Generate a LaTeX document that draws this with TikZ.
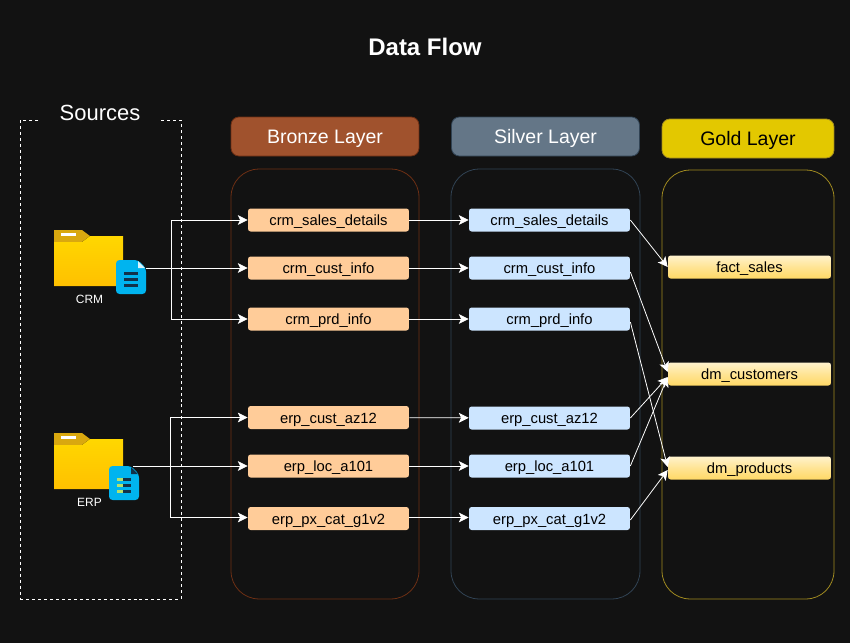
\documentclass[tikz,border=0pt]{standalone}
\usepackage{fontspec}
\setmainfont{Liberation Sans}
\usetikzlibrary{arrows.meta}

\definecolor{pagebg}{HTML}{121212}
\definecolor{bronzefill}{HTML}{A0522D}
\definecolor{bronzeline}{HTML}{6D2F14}
\definecolor{silverfill}{HTML}{647687}
\definecolor{silverline}{HTML}{314354}
\definecolor{goldfill}{HTML}{E3C800}
\definecolor{goldline}{HTML}{A08A20}
\definecolor{bronzetable}{HTML}{FFCC99}
\definecolor{silvertable}{HTML}{CCE5FF}
\definecolor{goldtop}{HTML}{FFF2CC}
\definecolor{goldbottom}{HTML}{FFD966}
\definecolor{foldertop}{HTML}{FFD700}
\definecolor{folderbottom}{HTML}{FFC000}
\definecolor{foldertab}{HTML}{D9A80F}
\definecolor{docfill}{HTML}{00B4EF}
\definecolor{docdark}{HTML}{12324A}
\definecolor{docgreen}{HTML}{B5E26C}

\tikzset{
	layerhead/.style={rounded corners=4.5pt, line width=0.45pt, minimum width=3.76cm, minimum height=0.78cm, inner sep=0pt, text height=7.8pt, text depth=0pt, font=\fontsize{11.1}{13}\selectfont},
	layerbox/.style={draw, line width=0.45pt, rounded corners=0.56cm, minimum height=8.6cm, inner sep=0pt},
	tablebox/.style={rounded corners=1.5pt, minimum width=3.22cm, minimum height=0.46cm, inner sep=0pt, text=black, text height=6.5pt, text depth=0pt, font=\fontsize{8.4}{10}\selectfont},
	bronzetab/.style={tablebox, fill=bronzetable},
	silvertab/.style={tablebox, fill=silvertable},
	goldtab/.style={tablebox, minimum width=3.26cm, top color=goldtop, bottom color=goldbottom, middle color=goldbottom!55!goldtop},
	flowline/.style={draw=white, line width=0.45pt, -{Stealth[length=5.6pt, width=5.6pt, inset=1.3pt]}},
	srclabel/.style={text=white, inner sep=0pt, font=\fontsize{6.8}{8}\selectfont},
	pics/srcfolder/.style={code={
		\fill[foldertab] (0,0) -- (28,0) -- (36,6) -- (36,12) -- (0,12) -- cycle;
		\fill[top color=foldertop, bottom color=folderbottom] (0,12) -- (28,12) -- (36,6) -- (69,6) -- (69,56) -- (0,56) -- cycle;
		\fill[white] (7,3) rectangle (22,6);
	}},
	pics/srcdoc/.style n args={2}{code={
		\fill[docfill, rounded corners=2pt] (0,0) -- (22,0) -- (30,8) -- (30,34) -- (0,34) -- cycle;
		\fill[#2] (22,1) -- (29,8) -- (22,8) -- cycle;
		\fill[docdark] (8,12) rectangle (22,15);
		\fill[docdark] (8,18) rectangle (22,21);
		\fill[docdark] (8,24) rectangle (22,27);
		\fill[#1] (8,12) rectangle (14,15);
		\fill[#1] (8,18) rectangle (14,21);
		\fill[#1] (8,24) rectangle (14,27);
	}}
}

\begin{document}
\begin{tikzpicture}[x=0.02cm, y=-0.02cm]
	\fill[pagebg] (0,0) rectangle (850,643);
	\useasboundingbox (0,0) rectangle (850,643);

	\node[text=white, font=\fontsize{13.66}{16}\selectfont\bfseries] (title) at (425,47) {Data Flow};

	% sources frame
	\node[draw=white, dash pattern=on 1.7pt off 1.7pt, line width=0.45pt, minimum width=3.22cm, minimum height=9.58cm, inner sep=0pt] (sources_box) at (100.5,359.5) {};
	\node[fill=pagebg, text=white, minimum width=2.38cm, inner sep=2pt, font=\fontsize{12.5}{15}\selectfont] (sources_title) at (100,113) {Sources};

	% layer frames
	\node[layerhead, fill=bronzefill, draw=bronzeline, text=white] (bronze_head) at (325,136.5) {Bronze Layer};
	\node[layerhead, fill=silverfill, draw=silverline, text=white] (silver_head) at (545.5,136.5) {Silver Layer};
	\node[layerhead, fill=goldfill, draw=goldline, text=black, minimum width=3.44cm] (gold_head) at (748,138.5) {Gold Layer};

	\node[layerbox, draw=bronzeline, minimum width=3.76cm] (bronze_box) at (325,384) {};
	\node[layerbox, draw=silverline, minimum width=3.78cm] (silver_box) at (545.5,384) {};
	\node[layerbox, draw=goldline, minimum width=3.44cm, minimum height=8.58cm] (gold_box) at (748,384.5) {};

	% source icons
	\pic (crm_folder) at (54,230) {srcfolder};
	\pic (crm_doc) at (116,260) {srcdoc={docdark}{white!85!docfill}};
	\node[srclabel] (crm_label) at (89.5,299) {CRM};

	\pic (erp_folder) at (54,433) {srcfolder};
	\pic (erp_doc) at (109,466) {srcdoc={docgreen}{docdark}};
	\node[srclabel] (erp_label) at (89.5,502) {ERP};

	% bronze tables
	\node[bronzetab] (crm_sales_b) at (328.5,220) {crm\_sales\_details};
	\node[bronzetab] (crm_cust_b) at (328.5,268) {crm\_cust\_info};
	\node[bronzetab] (crm_prd_b) at (328.5,319) {crm\_prd\_info};
	\node[bronzetab] (erp_cust_b) at (328.5,417.5) {erp\_cust\_az12};
	\node[bronzetab] (erp_loc_b) at (328.5,466) {erp\_loc\_a101};
	\node[bronzetab] (erp_px_b) at (328.5,518.5) {erp\_px\_cat\_g1v2};

	% silver tables
	\node[silvertab] (crm_sales_s) at (549.5,220) {crm\_sales\_details};
	\node[silvertab] (crm_cust_s) at (549.5,268) {crm\_cust\_info};
	\node[silvertab] (crm_prd_s) at (549.5,319) {crm\_prd\_info};
	\node[silvertab] (erp_cust_s) at (549.5,418) {erp\_cust\_az12};
	\node[silvertab] (erp_loc_s) at (549.5,466) {erp\_loc\_a101};
	\node[silvertab] (erp_px_s) at (549.5,518.5) {erp\_px\_cat\_g1v2};

	% gold tables
	\node[goldtab] (fact_sales) at (749.5,267) {fact\_sales};
	\node[goldtab] (dm_customers) at (749.5,374) {dm\_customers};
	\node[goldtab] (dm_products) at (749.5,468) {dm\_products};

	% sources to bronze
	\coordinate (crm_out) at (146,268);
	\coordinate (crm_bus) at (171,268);
	\coordinate (erp_out) at (133,466);
	\coordinate (erp_bus) at (170,466);

	\draw[flowline] (crm_out) -- (crm_cust_b.west);
	\draw[flowline] (crm_bus) |- (crm_sales_b.west);
	\draw[flowline] (crm_bus) |- (crm_prd_b.west);
	\draw[flowline] (erp_out) -- (erp_loc_b.west);
	\draw[flowline] (erp_bus) |- (erp_cust_b.west);
	\draw[flowline] (erp_bus) |- ([yshift=0.02cm]erp_px_b.west);

	% bronze to silver
	\draw[flowline] (crm_sales_b) -- (crm_sales_s);
	\draw[flowline] (crm_cust_b) -- (crm_cust_s);
	\draw[flowline] (crm_prd_b) -- (crm_prd_s);
	\draw[flowline] (erp_cust_b) -- (erp_cust_s);
	\draw[flowline] (erp_loc_b) -- (erp_loc_s);
	\draw[flowline] ([yshift=0.02cm]erp_px_b.east) -- ([yshift=0.02cm]erp_px_s.west);

	% silver to gold
	\draw[flowline] (crm_sales_s.east) -- (fact_sales.west);
	\draw[flowline] ([yshift=-0.08cm]crm_cust_s.east) -- ([yshift=0.04cm]dm_customers.west);
	\draw[flowline] ([yshift=-0.06cm]crm_prd_s.east) -- ([yshift=0.02cm]dm_products.west);
	\draw[flowline] (erp_cust_s.east) -- ([yshift=-0.06cm]dm_customers.west);
	\draw[flowline] (erp_loc_s.east) -- ([yshift=-0.06cm]dm_customers.west);
	\draw[flowline] ([yshift=-0.03cm]erp_px_s.east) -- ([yshift=-0.04cm]dm_products.west);
\end{tikzpicture}
\end{document}
